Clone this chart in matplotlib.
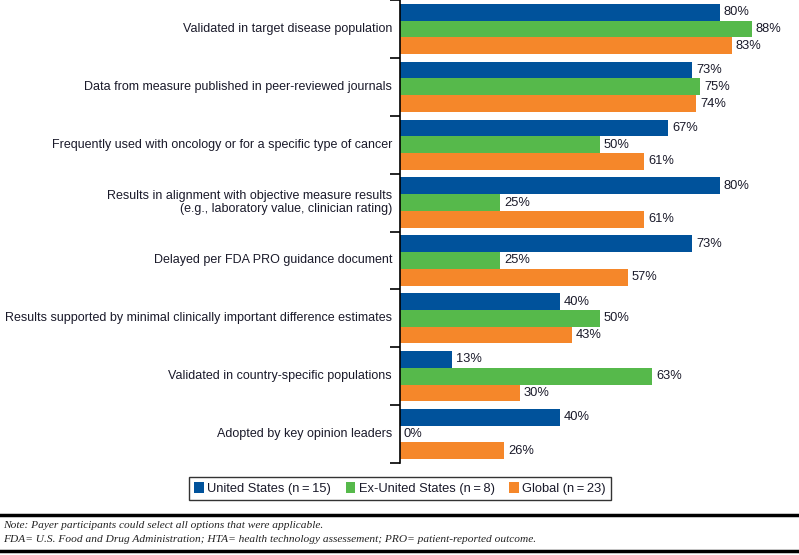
import matplotlib
matplotlib.use("Agg")
import matplotlib.pyplot as plt
from matplotlib.patches import Patch
from matplotlib.lines import Line2D
import numpy as np

categories = [
    "Validated in target disease population",
    "Data from measure published in peer-reviewed journals",
    "Frequently used with oncology or for a specific type of cancer",
    "Results in alignment with objective measure results\n(e.g., laboratory value, clinician rating)",
    "Delayed per FDA PRO guidance document",
    "Results supported by minimal clinically important difference estimates",
    "Validated in country-specific populations",
    "Adopted by key opinion leaders",
]
us = [80, 73, 67, 80, 73, 40, 13, 40]
ex_us = [88, 75, 50, 25, 25, 50, 63, 0]
glob = [83, 74, 61, 61, 57, 43, 30, 26]
series_names = ["United States (n\u2009=\u200915)", "Ex-United States (n\u2009=\u20098)", "Global (n\u2009=\u200923)"]
colors = ["#00529B", "#56B94B", "#F5872A"]

plt.rcParams['font.family'] = ['Liberation Sans', 'DejaVu Sans']

fig = plt.figure(figsize=(7.99, 5.55), dpi=100)
W, H = 799, 555
ax = fig.add_axes([400 / W, 1 - 463 / H, 400 / W, 463 / H])

n = len(categories)
y = np.arange(n)
bh = 0.29
offs = [-bh, 0, bh]
for vals, off, c in zip([us, ex_us, glob], offs, colors):
    ax.barh(y + off, vals, height=bh, color=c, linewidth=0)
    for yy, v in zip(y + off, vals):
        ax.text(v + 1.0, yy, f"{v}%", va="center", ha="left", fontsize=9.3, color="#1a1a2a")

ax.set_ylim(n - 0.5, -0.5)
ax.set_xlim(0, 100)
ax.set_yticks(np.arange(n + 1) - 0.5)
ax.set_yticklabels([])
ax.tick_params(axis="y", direction="out", length=7, width=1.2, color="black")
ax.set_xticks([])
for s in ["top", "right", "bottom"]:
    ax.spines[s].set_visible(False)
ax.spines["left"].set_linewidth(1.2)
for yy, lab in zip(y, categories):
    ax.text(-2.0, yy, lab, ha="right", va="center", fontsize=9, color="#1a1a2a",
            linespacing=1.1, transform=ax.transData, clip_on=False)

handles = [Patch(facecolor=c, edgecolor="none") for c in colors]
leg = fig.legend(handles, series_names, loc="center", bbox_to_anchor=(400 / W, 1 - 488.5 / H),
                 ncol=3, fontsize=9.3,
                 frameon=True, fancybox=False, edgecolor="black",
                 handlelength=0.75, handleheight=1.0, handletextpad=0.25, columnspacing=1.15,
                 borderpad=0.4, borderaxespad=0)
leg.get_frame().set_linewidth(1.0)
for t in leg.get_texts():
    t.set_color("#1a1a2a")

fig.add_artist(Line2D([0, 1], [1 - 515 / H, 1 - 515 / H], color="black", linewidth=2.5,
                      transform=fig.transFigure))
fig.add_artist(Line2D([0, 1], [1 - 551 / H, 1 - 551 / H], color="black", linewidth=2.5,
                      transform=fig.transFigure))
fig.text(3 / W, 1 - 525 / H, "Note: Payer participants could select all options that were applicable.",
         family="Liberation Serif", style="italic", fontsize=8.2, va="center", ha="left", color="#222")
fig.text(3 / W, 1 - 540 / H,
         "FDA= U.S. Food and Drug Administration; HTA= health technology assessement; PRO= patient-reported outcome.",
         family="Liberation Serif", style="italic", fontsize=8.2, va="center", ha="left", color="#222")

fig.savefig("out.png", dpi=100)
